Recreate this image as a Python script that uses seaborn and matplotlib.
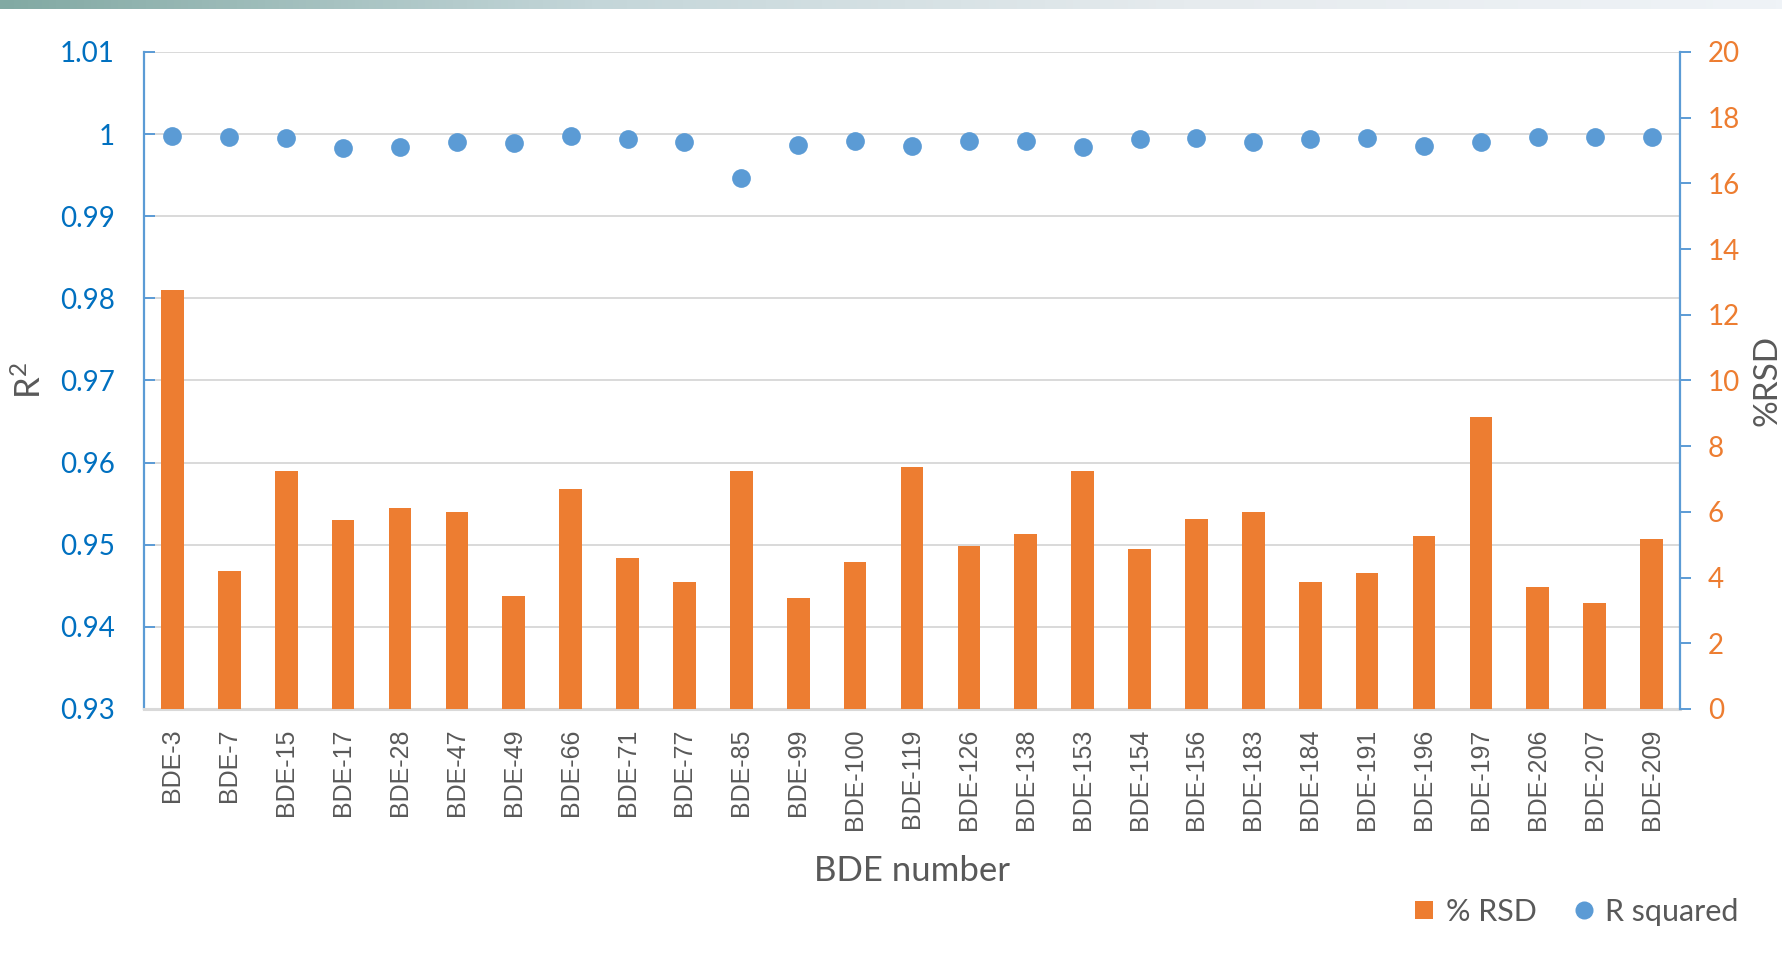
import numpy as np
import matplotlib
matplotlib.use("Agg")
import matplotlib.pyplot as plt
from matplotlib.colors import LinearSegmentedColormap
from matplotlib.lines import Line2D
from matplotlib.ticker import FuncFormatter, FixedLocator
import seaborn as sns

# Congener names
categories = ["BDE-3", "BDE-7", "BDE-15", "BDE-17", "BDE-28", "BDE-47", "BDE-49",
              "BDE-66", "BDE-71", "BDE-77", "BDE-85", "BDE-99", "BDE-100", "BDE-119",
              "BDE-126", "BDE-138", "BDE-153", "BDE-154", "BDE-156", "BDE-183",
              "BDE-184", "BDE-191", "BDE-196", "BDE-197", "BDE-206", "BDE-207", "BDE-209"]

# Relative standard deviation (%), right axis
rsd = [12.77, 4.19, 7.23, 5.74, 6.12, 5.99, 3.43,
       6.71, 4.60, 3.88, 7.23, 3.39, 4.46, 7.37,
       4.95, 5.33, 7.23, 4.88, 5.78, 5.99,
       3.88, 4.15, 5.26, 8.89, 3.70, 3.22, 5.16]

# Calibration linearity (R squared), left axis
r2 = [0.9998, 0.9996, 0.99947, 0.99826, 0.99846, 0.99899, 0.99891,
      0.9998, 0.99935, 0.99907, 0.9947, 0.99866, 0.99911, 0.99858,
      0.99911, 0.99915, 0.99838, 0.99935, 0.99947, 0.99907,
      0.99935, 0.99947, 0.99858, 0.99907, 0.9996, 0.9996, 0.9996]

left_ticks = [0.93, 0.94, 0.95, 0.96, 0.97, 0.98, 0.99, 1.0, 1.01]
right_ticks = [0, 2, 4, 6, 8, 10, 12, 14, 16, 18, 20]

ORANGE = "#ED7D31"
BLUE = "#5B9BD5"
AXIS_BLUE = "#5B9BD5"
LEFT_TXT = "#0070C0"
GRAY_TXT = "#595959"
GRID = "#D9D9D9"

sns.set_style("white")
plt.rcParams["font.family"] = ["Lato", "DejaVu Sans"]
plt.rcParams["mathtext.fontset"] = "custom"
plt.rcParams["mathtext.rm"] = "Lato"
plt.rcParams["mathtext.it"] = "Lato"
plt.rcParams["mathtext.default"] = "rm"

fig = plt.figure(figsize=(17.83, 9.66), dpi=100)
ax = fig.add_axes([144 / 1783, 1 - 709 / 966, 1536 / 1783, 657 / 966])
ax2 = ax.twinx()

# bars on the secondary (right) axis
sns.barplot(x=categories, y=rsd, ax=ax2, color=ORANGE, saturation=1,
            width=0.4, linewidth=0, errorbar=None)
# R squared markers on the primary (left) axis
sns.pointplot(x=categories, y=r2, ax=ax, color=BLUE, linestyle="none",
              marker="o", markersize=13.5, markeredgewidth=0, errorbar=None)

ax.set_xlim(-0.5, len(categories) - 0.5)
ax.set_ylim(0.93, 1.01)
ax2.set_ylim(0, 20)
ax.yaxis.set_major_locator(FixedLocator(left_ticks))
ax.yaxis.set_major_formatter(FuncFormatter(lambda v, p: f"{round(v, 2):g}"))
ax2.yaxis.set_major_locator(FixedLocator(right_ticks))

ax.yaxis.grid(True, color=GRID, linewidth=1.4)
ax.xaxis.grid(False)
ax.set_axisbelow(True)

# spines
for s in ["top", "right"]:
    ax.spines[s].set_visible(False)
ax.spines["left"].set_color(AXIS_BLUE)
ax.spines["left"].set_linewidth(1.6)
ax.spines["bottom"].set_color(GRID)
ax.spines["bottom"].set_linewidth(2.2)
for s in ["top", "left", "bottom"]:
    ax2.spines[s].set_visible(False)
ax2.spines["right"].set_color(AXIS_BLUE)
ax2.spines["right"].set_linewidth(1.6)

# ticks
ax.tick_params(axis="y", direction="in", length=8, width=1.4, color=AXIS_BLUE,
               labelcolor=LEFT_TXT, labelsize=20, pad=21, left=True)
ax2.tick_params(axis="y", direction="out", length=8, width=1.4, color=AXIS_BLUE,
                labelcolor=ORANGE, labelsize=20, pad=12, right=True)
ax.tick_params(axis="x", length=0, pad=14, bottom=False)
ax.set_xticks(range(len(categories)))
ax.set_xticklabels(categories, rotation=90, family=["Liberation Sans", "DejaVu Sans"],
                   fontsize=18, color=GRAY_TXT)

# axis titles
ax.set_xlabel("BDE number", fontsize=25, color=GRAY_TXT)
ax.xaxis.set_label_coords(0.5, -0.222)
ax.set_ylabel("R$^2$", fontsize=25, color=GRAY_TXT)
ax.yaxis.set_label_coords(-0.063, 0.5)
ax2.set_ylabel("%RSD", fontsize=24, color=GRAY_TXT, rotation=90)
ax2.yaxis.set_label_coords(1.047, 0.5)

# legend
handles = [Line2D([], [], linestyle="none", marker="s", markersize=13,
                  markerfacecolor=ORANGE, markeredgewidth=0),
           Line2D([], [], linestyle="none", marker="o", markersize=13,
                  markerfacecolor=BLUE, markeredgewidth=0)]
leg = fig.legend(handles, ["% RSD", "R squared"], ncol=2, frameon=False,
                 loc="center", bbox_to_anchor=(0.884, 0.056), fontsize=22,
                 handlelength=0.7, handletextpad=0.35, columnspacing=1.2)
for t in leg.get_texts():
    t.set_color(GRAY_TXT)

# decorative gradient band along the top edge
band = fig.add_axes([0, 1 - 9 / 966, 1, 9 / 966])
cmap = LinearSegmentedColormap.from_list("band", ["#82A9A3", "#C4D6D9", "#E6EBEE", "#EFF3F7"])
band.imshow(np.linspace(0, 1, 512)[None, :], aspect="auto", cmap=cmap)
band.set_axis_off()

fig.savefig("out.png", dpi=100)
